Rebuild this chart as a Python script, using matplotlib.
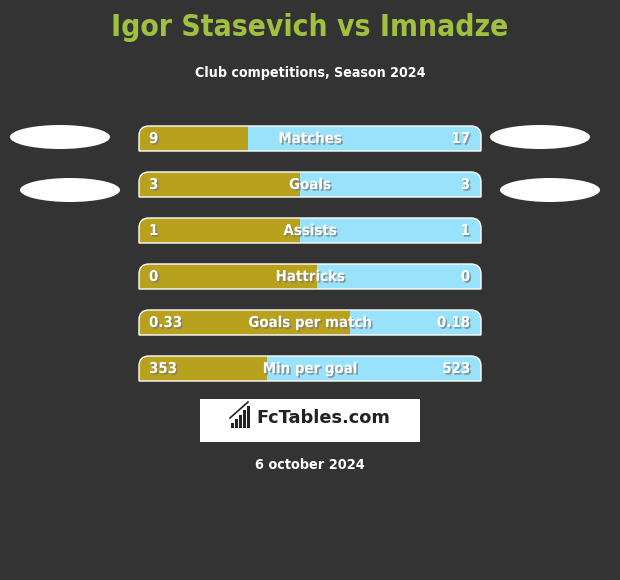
import matplotlib
matplotlib.use("Agg")
import matplotlib.pyplot as plt
from matplotlib.patches import Ellipse, Rectangle, PathPatch
from matplotlib.path import Path
from matplotlib.textpath import TextPath
import matplotlib.patheffects as pe
from matplotlib import font_manager as fm

title = "Igor Stasevich vs Imnadze"
subtitle = "Club competitions, Season 2024"
date_text = "6 october 2024"
categories = ["Matches", "Goals", "Assists", "Hattricks", "Goals per match", "Min per goal"]
left_values = [9, 3, 1, 0, 0.33, 353]
right_values = [17, 3, 1, 0, 0.18, 523]
left_labels = ["9", "3", "1", "0", "0.33", "353"]
right_labels = ["17", "3", "1", "0", "0.18", "523"]

BG = "#333333"
GOLD = "#b8a11c"
BLUE = "#98e3fb"
GREEN = "#a0c040"

def is_bold(f):
    w = f.weight
    if isinstance(w, str):
        return w in ("bold", "semibold", "demibold", "heavy", "black", "extra bold", "ultrabold")
    return w >= 600

def width100(prop_file, text):
    prop = fm.FontProperties(fname=prop_file, size=100)
    return TextPath((0, 0), text, prop=prop).get_extents().width

cands = []
for f in fm.fontManager.ttflist:
    st = str(f.stretch)
    nm = f.name.lower()
    if ("condensed" in st or "narrow" in nm or "condensed" in nm or st in ("semi-condensed", "extra-condensed")) \
            and is_bold(f):
        cands.append(f.fname)
if cands:
    FONT = cands[0]
else:
    FONT = fm.findfont(fm.FontProperties(family="Roboto", weight="bold"))

GROW = 1.1

def fit_size(text, target_px):
    w = width100(FONT, text)
    return GROW * target_px * 72.0 / w

def fp(size):
    return fm.FontProperties(fname=FONT, size=size)

S_TITLE = fit_size(title, 358)
S_SUB = fit_size(subtitle, 209)
S_CAT = fit_size("Matches", 56)
S_DATE = fit_size(date_text, 99)

fig = plt.figure(figsize=(6.2, 5.8), dpi=100)
fig.patch.set_facecolor(BG)
ax = fig.add_axes([0, 0, 1, 1])
ax.set_xlim(0, 620)
ax.set_ylim(580, 0)
ax.axis("off")
ax.set_facecolor(BG)

ax.text(310, 27, title, ha="center", va="center", color=GREEN, fontproperties=fp(S_TITLE))
ax.text(310, 73, subtitle, ha="center", va="center", color="white", fontproperties=fp(S_SUB))

x0, x1 = 139, 481
h = 25
r = 10
shadow = [pe.withSimplePatchShadow(offset=(1.2, -1.2), shadow_rgbFace="#777777", alpha=0.7)]

def bar_path(yc):
    top = yc - h / 2
    bot = yc + h / 2
    verts = [(x0, bot), (x0, top + r), (x0, top), (x0 + r, top),
             (x1 - r, top), (x1, top), (x1, top + r), (x1, bot), (x0, bot)]
    codes = [Path.MOVETO, Path.LINETO, Path.CURVE3, Path.CURVE3,
             Path.LINETO, Path.CURVE3, Path.CURVE3, Path.LINETO, Path.CLOSEPOLY]
    return Path(verts, codes)

for i, cat in enumerate(categories):
    yc = 138.5 + 46 * i
    lv, rv = left_values[i], right_values[i]
    tot = lv + rv
    frac = lv / tot if tot > 0 else 0.55
    xm = 131 + 338 * frac
    p = bar_path(yc)
    clip = PathPatch(p, transform=ax.transData, facecolor="none", edgecolor="none")
    ax.add_patch(clip)
    rb = Rectangle((x0, yc - h / 2), x1 - x0, h, facecolor=BLUE, edgecolor="none")
    ax.add_patch(rb)
    rb.set_clip_path(clip)
    gb = Rectangle((x0, yc - h / 2), xm - x0, h, facecolor=GOLD, edgecolor="none")
    ax.add_patch(gb)
    gb.set_clip_path(clip)
    ax.add_patch(PathPatch(p, facecolor="none", edgecolor="white", lw=1.0))
    ax.text(310, yc, cat, ha="center", va="center", color="white",
            fontproperties=fp(S_CAT), path_effects=shadow)
    ax.text(149, yc, left_labels[i], ha="left", va="center", color="white",
            fontproperties=fp(S_CAT), path_effects=shadow)
    ax.text(470, yc, right_labels[i], ha="right", va="center", color="white",
            fontproperties=fp(S_CAT), path_effects=shadow)

for (cx, cy) in [(60, 137), (70, 190), (540, 137), (550, 190)]:
    ax.add_patch(Ellipse((cx, cy), 100, 24, facecolor="white", edgecolor="none"))

ax.add_patch(Rectangle((200, 399), 220, 43, facecolor="white", edgecolor="none"))
for (bx, bh) in [(231, 5), (235, 9), (239, 13), (243, 18), (247, 22)]:
    ax.add_patch(Rectangle((bx, 428 - bh), 3, bh, facecolor="#222222", edgecolor="none"))
ax.plot([230, 248], [418, 402], color="#222222", lw=1.2)
ax.text(256, 418, "FcTables.com", ha="left", va="center", color="#222222",
        fontsize=12.8, fontweight="bold", family="DejaVu Sans")

ax.text(310, 465, date_text, ha="center", va="center", color="white", fontproperties=fp(S_DATE))

fig.savefig("out.png", dpi=100, facecolor=BG)
